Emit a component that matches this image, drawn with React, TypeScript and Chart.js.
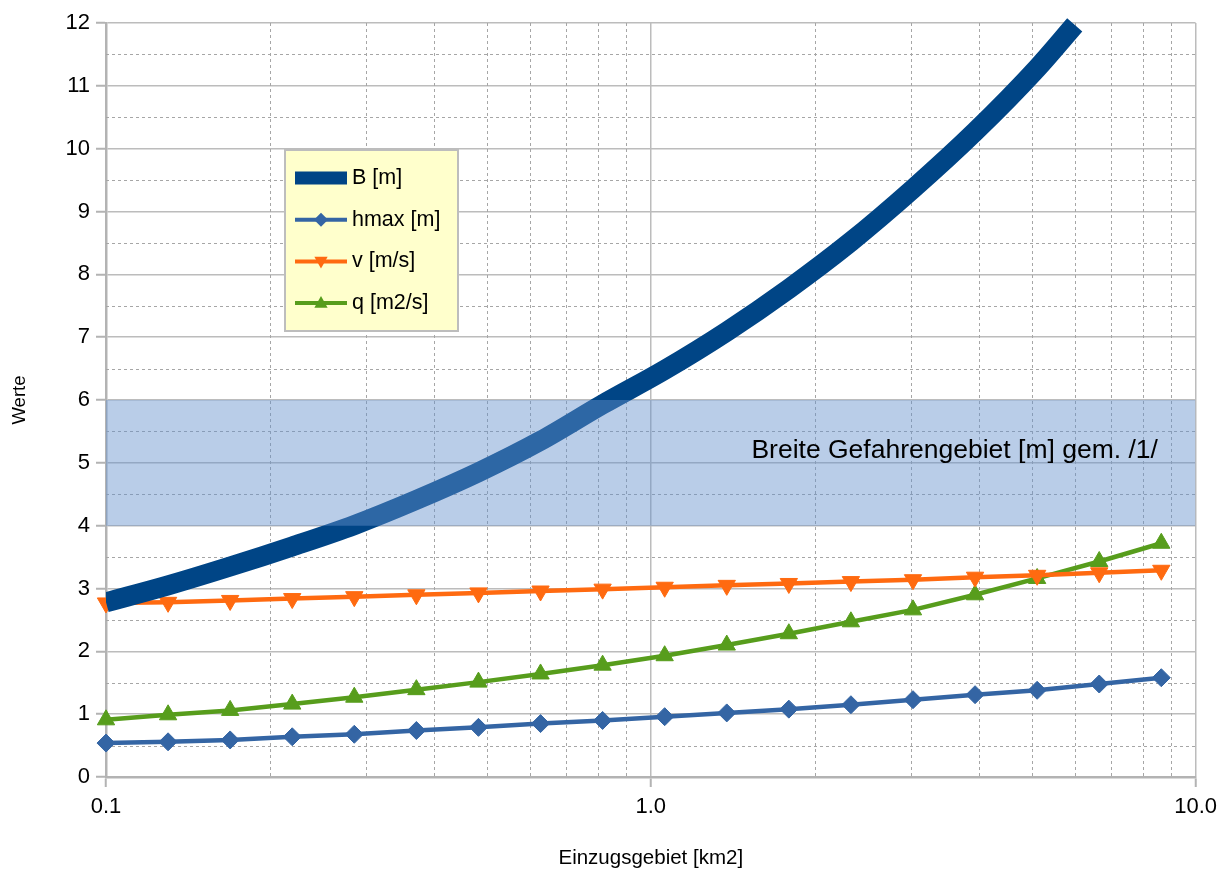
import React, { useEffect, useRef } from 'react';
import { Chart, registerables } from 'chart.js';

Chart.register(...registerables);

// ---- data ----
const X_KM2 = [0.1, 0.13, 0.169, 0.2197, 0.2856, 0.3713, 0.4827, 0.6275, 0.8157, 1.0604, 1.3786, 1.7922, 2.3298, 3.0288, 3.9374, 5.1186, 6.6542, 8.6504];
const B_X = [0.1, 0.13, 0.169, 0.2197, 0.2856, 0.3713, 0.4827, 0.6275, 0.8157, 1.0604, 1.3786, 1.7922, 2.3298, 3.0288, 3.9374, 5.1186, 6.0];
const B_M = [2.78, 3.05, 3.35, 3.67, 4.01, 4.41, 4.85, 5.35, 5.93, 6.48, 7.09, 7.77, 8.52, 9.36, 10.27, 11.28, 11.97];
const HMAX_M = [0.54, 0.56, 0.59, 0.64, 0.68, 0.74, 0.79, 0.85, 0.9, 0.96, 1.02, 1.08, 1.15, 1.23, 1.31, 1.38, 1.48, 1.58];
const V_MS = [2.77, 2.78, 2.81, 2.84, 2.87, 2.9, 2.93, 2.96, 2.99, 3.02, 3.05, 3.08, 3.11, 3.14, 3.18, 3.21, 3.25, 3.29];
const Q_M2S = [0.91, 0.99, 1.06, 1.16, 1.27, 1.39, 1.51, 1.64, 1.78, 1.93, 2.1, 2.28, 2.47, 2.66, 2.9, 3.16, 3.43, 3.72];

const SERIES_LABELS = ['B [m]', 'hmax [m]', 'v [m/s]', 'q [m2/s]'];
const X_MIN = 0.1;
const X_MAX = 10;
const Y_MIN = 0;
const Y_MAX = 12;
const X_MAJOR_TICKS = [0.1, 1, 10];
const X_MINOR_GRID = [0.2, 0.3, 0.4, 0.5, 0.6, 0.7, 0.8, 0.9, 2, 3, 4, 5, 6, 7, 8, 9];
const Y_MINOR_GRID = [0.5, 1.5, 2.5, 3.5, 4.5, 5.5, 6.5, 7.5, 8.5, 9.5, 10.5, 11.5];
const BAND_LOW = 4;
const BAND_HIGH = 6;
const BAND_LABEL = 'Breite Gefahrengebiet [m] gem. /1/';
const BAND_LABEL_X = 1.53;
const BAND_LABEL_Y = 5.2;
const X_TITLE = 'Einzugsgebiet [km2]';
const Y_TITLE = 'Werte';

const FONT = '"Liberation Sans", Arial, sans-serif';
const C_B = '#004586';
const C_H = '#3465a4';
const C_V = '#ff6a10';
const C_Q = '#579d1c';

const pts = (xs: number[], ys: number[]) => xs.map((x, i) => ({ x, y: ys[i] }));

const minorGridPlugin = {
  id: 'minorGrid',
  beforeDatasetsDraw(chart: any) {
    const { ctx, chartArea: a, scales } = chart;
    const x = scales.x, y = scales.y;
    ctx.save();
    ctx.beginPath();
    ctx.rect(a.left, a.top, a.right - a.left, a.bottom - a.top);
    ctx.clip();
    ctx.setLineDash([3, 3]);
    ctx.strokeStyle = '#a6a6a6';
    ctx.lineWidth = 1;
    ctx.beginPath();
    X_MINOR_GRID.forEach((v) => {
      const px = Math.round(x.getPixelForValue(v)) + 0.5;
      ctx.moveTo(px, a.top);
      ctx.lineTo(px, a.bottom);
    });
    Y_MINOR_GRID.forEach((v) => {
      const py = Math.round(y.getPixelForValue(v)) + 0.5;
      ctx.moveTo(a.left, py);
      ctx.lineTo(a.right, py);
    });
    ctx.stroke();
    ctx.restore();
  },
};

const bandLabelPlugin = {
  id: 'bandLabel',
  afterDatasetsDraw(chart: any) {
    const { ctx, scales } = chart;
    ctx.save();
    ctx.font = `26.5px ${FONT}`;
    ctx.fillStyle = '#000';
    ctx.textAlign = 'left';
    ctx.textBaseline = 'middle';
    ctx.fillText(BAND_LABEL, scales.x.getPixelForValue(BAND_LABEL_X), scales.y.getPixelForValue(BAND_LABEL_Y));
    ctx.restore();
  },
};

function drawMarker(ctx: CanvasRenderingContext2D, kind: string, cx: number, cy: number, r: number, color: string) {
  ctx.fillStyle = color;
  ctx.beginPath();
  if (kind === 'diamond') {
    ctx.moveTo(cx, cy - r);
    ctx.lineTo(cx + r, cy);
    ctx.lineTo(cx, cy + r);
    ctx.lineTo(cx - r, cy);
  } else if (kind === 'up') {
    ctx.moveTo(cx, cy - r);
    ctx.lineTo(cx + r * 0.95, cy + r * 0.65);
    ctx.lineTo(cx - r * 0.95, cy + r * 0.65);
  } else {
    ctx.moveTo(cx, cy + r);
    ctx.lineTo(cx + r * 0.95, cy - r * 0.65);
    ctx.lineTo(cx - r * 0.95, cy - r * 0.65);
  }
  ctx.closePath();
  ctx.fill();
}

const legendPlugin = {
  id: 'boxLegend',
  afterDraw(chart: any) {
    const { ctx, chartArea: a } = chart;
    const left = a.left + 179;
    const top = a.top + 127;
    const w = 173;
    const h = 181;
    ctx.save();
    ctx.fillStyle = '#ffffcc';
    ctx.fillRect(left, top, w, h);
    ctx.strokeStyle = '#bdbdbd';
    ctx.lineWidth = 2;
    ctx.strokeRect(left, top, w, h);
    const colors = [C_B, C_H, C_V, C_Q];
    const kinds = ['bar', 'diamond', 'down', 'up'];
    SERIES_LABELS.forEach((label, i) => {
      const cy = top + 28 + i * 41.7;
      const x1 = left + 10;
      const x2 = left + 62;
      if (i === 0) {
        ctx.fillStyle = colors[i];
        ctx.fillRect(x1, cy - 6.5, x2 - x1, 13);
      } else {
        ctx.strokeStyle = colors[i];
        ctx.lineWidth = 4;
        ctx.beginPath();
        ctx.moveTo(x1, cy);
        ctx.lineTo(x2, cy);
        ctx.stroke();
        drawMarker(ctx, kinds[i], (x1 + x2) / 2, cy, 7, colors[i]);
      }
      ctx.fillStyle = '#000';
      ctx.font = `21.5px ${FONT}`;
      ctx.textAlign = 'left';
      ctx.textBaseline = 'middle';
      ctx.fillText(label, left + 67, cy);
    });
    ctx.restore();
  },
};

export default function App() {
  const ref = useRef<HTMLCanvasElement | null>(null);

  useEffect(() => {
    document.body.style.margin = '0';
    if (!ref.current) return;
    const chart = new Chart(ref.current, {
      type: 'line',
      data: {
        datasets: [
          {
            label: 'band',
            data: [{ x: X_MIN, y: BAND_HIGH }, { x: X_MAX, y: BAND_HIGH }],
            fill: { value: BAND_LOW },
            backgroundColor: 'rgba(100,145,205,0.45)',
            borderWidth: 0,
            pointRadius: 0,
            order: 0,
          } as any,
          {
            label: SERIES_LABELS[0],
            data: pts(B_X, B_M),
            borderColor: C_B,
            backgroundColor: C_B,
            borderWidth: 20,
            pointRadius: 0,
            cubicInterpolationMode: 'monotone',
            clip: { left: 0, top: 12, right: 0, bottom: 0 },
            order: 1,
          } as any,
          {
            label: SERIES_LABELS[1],
            data: pts(X_KM2, HMAX_M),
            borderColor: C_H,
            backgroundColor: C_H,
            borderWidth: 4.5,
            pointStyle: 'rectRot',
            pointRadius: 9,
            pointBorderWidth: 1,
            clip: false,
            order: 4,
          } as any,
          {
            label: SERIES_LABELS[2],
            data: pts(X_KM2, V_MS),
            borderColor: C_V,
            backgroundColor: C_V,
            borderWidth: 4.5,
            pointStyle: 'triangle',
            pointRotation: 180,
            pointRadius: 10,
            pointBorderWidth: 1,
            clip: false,
            order: 2,
          } as any,
          {
            label: SERIES_LABELS[3],
            data: pts(X_KM2, Q_M2S),
            borderColor: C_Q,
            backgroundColor: C_Q,
            borderWidth: 4.5,
            pointStyle: 'triangle',
            pointRadius: 10,
            pointBorderWidth: 1,
            clip: false,
            order: 3,
          } as any,
        ],
      },
      options: {
        animation: false,
        responsive: false,
        devicePixelRatio: 1,
        layout: { padding: { left: 0, right: 25, top: 23, bottom: 0 } },
        plugins: { legend: { display: false }, tooltip: { enabled: false } },
        scales: {
          x: {
            type: 'logarithmic',
            min: X_MIN,
            max: X_MAX,
            afterBuildTicks: (s: any) => {
              s.ticks = X_MAJOR_TICKS.map((v) => ({ value: v }));
            },
            afterFit: (s: any) => {
              s.height = 96;
            },
            ticks: {
              callback: (v: any) => Number(v).toFixed(1),
              font: { family: FONT, size: 22 },
              color: '#000',
              padding: 7,
              maxRotation: 0,
              autoSkip: false,
            },
            grid: { color: '#bcbcbc', lineWidth: 1.5, tickLength: 10, tickColor: '#b3b3b3', tickWidth: 2 },
            border: { color: '#b3b3b3', width: 2.5 },
            title: { display: true, text: X_TITLE, font: { family: FONT, size: 20.5 }, color: '#000', padding: { top: 0, bottom: 2 } },
          } as any,
          y: {
            type: 'linear',
            min: Y_MIN,
            max: Y_MAX,
            afterFit: (s: any) => {
              s.width = 106;
            },
            ticks: {
              stepSize: 1,
              font: { family: FONT, size: 22 },
              color: '#000',
              padding: 6,
            },
            grid: { color: '#bcbcbc', lineWidth: 1.5, tickLength: 10, tickColor: '#b3b3b3', tickWidth: 2 },
            border: { color: '#b3b3b3', width: 2.5 },
            title: { display: true, text: Y_TITLE, font: { family: FONT, size: 18.5 }, color: '#000', padding: { top: 9, bottom: 0 } },
          } as any,
        },
      },
      plugins: [minorGridPlugin, bandLabelPlugin, legendPlugin],
    });
    return () => chart.destroy();
  }, []);

  return (
    <div style={{ position: 'absolute', left: 0, top: 0, width: 1224, height: 873 }}>
      <canvas ref={ref} width={1224} height={873} />
    </div>
  );
}
